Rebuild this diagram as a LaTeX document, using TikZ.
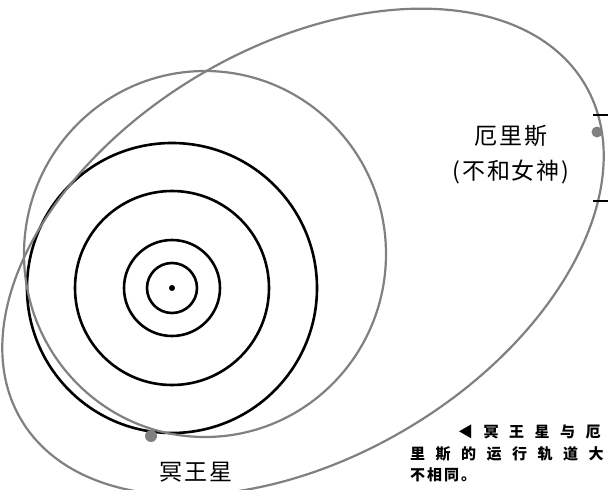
\documentclass[tikz,border=0pt]{standalone}
\usepackage{fontspec}
\usepackage{tikz}
\newfontfamily\cjk[LetterSpace=8]{Noto Sans CJK SC}
\newfontfamily\capwide[LetterSpace=70]{Noto Sans CJK SC}
\newfontfamily\capnarrow[LetterSpace=13]{Noto Sans CJK SC}
\definecolor{orbit}{gray}{0.5}

\begin{document}
\begin{tikzpicture}[x=1pt,y=-1pt]
  \clip (0,0) rectangle (608,490);
  % sun and the inner (black) orbits
  \coordinate (sun) at (172,288);
  \foreach \r in {25,48,97,145} {
    \draw[line width=2.6pt,black] (sun) circle (\r);
  }
  \fill[black] (sun) circle (3);
  % orbit of pluto
  \coordinate (pc) at (205,254);
  \draw[line width=2.2pt,orbit] (pc) ellipse [x radius=181,y radius=183];
  % orbit of eris (tilted)
  \coordinate (ec) at (303,252);
  \draw[line width=2.2pt,orbit] (ec) ellipse [x radius=328,y radius=205,rotate=30.8];
  % the two bodies
  \node[circle,fill=orbit,inner sep=0,minimum size=11pt] (eris) at (597,132) {};
  \node[circle,fill=orbit,inner sep=0,minimum size=12pt] (pluto) at (151,436) {};
  % ticks next to eris
  \draw[line width=1.6pt] (593,115) -- (608,115);
  \draw[line width=1.6pt] (593,201) -- (608,201);
  % labels
  \node[fill=white,align=center,font=\cjk\fontsize{23}{35}\selectfont] (erislabel) at (511,155) {厄里斯\\(不和女神)};
  \node[fill=white,inner sep=2pt,font=\cjk\fontsize{23}{28}\selectfont] (plutolabel) at (196,472) {冥王星};
  % caption
  \node[anchor=base west,inner sep=0,font=\capwide\bfseries\fontsize{15}{18}\selectfont] (cap1) at (458,437) {◀冥王星与厄};
  \node[anchor=base west,inner sep=0,font=\capwide\bfseries\fontsize{15}{18}\selectfont] (cap2) at (410,459) {里斯的运行轨道大};
  \node[anchor=base west,inner sep=0,font=\capnarrow\bfseries\fontsize{15}{18}\selectfont] (cap3) at (410,480) {不相同。};
\end{tikzpicture}
\end{document}
